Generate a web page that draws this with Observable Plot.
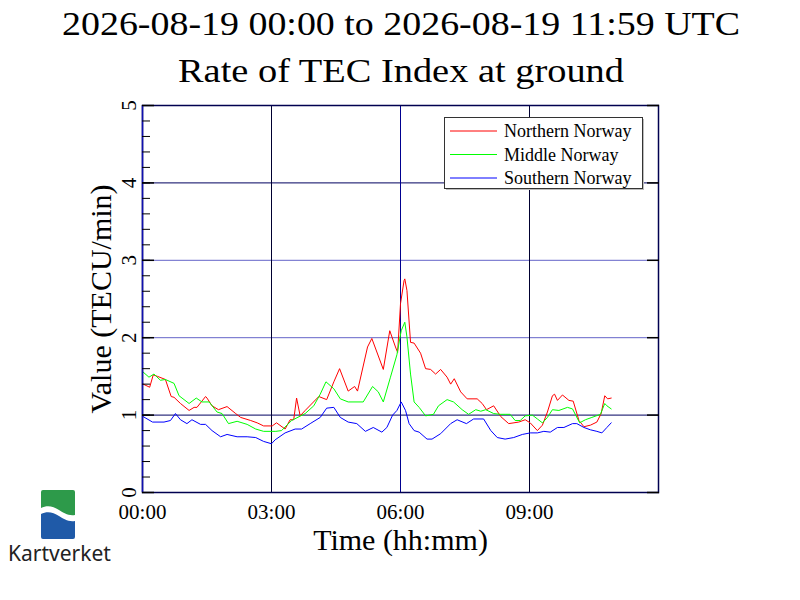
<!DOCTYPE html>
<html>
<head>
<meta charset="utf-8">
<script src="https://cdn.jsdelivr.net/npm/d3@7"></script>
<script src="https://cdn.jsdelivr.net/npm/@observablehq/plot@0.6"></script>
<style>
  html, body { margin: 0; padding: 0; background: #fff; }
  #wrap { position: relative; width: 800px; height: 600px; background: #fff; overflow: hidden; }
  #title, #chart { display: block; }
  #legend, #logo { position: absolute; }
</style>
</head>
<body>
<div id="wrap">
  <svg id="title" width="800" height="97"></svg>
  <div id="chart"></div>
  <svg id="legend" width="204" height="76" style="left:443px;top:116px"></svg>
  <svg id="logo" width="140" height="100" style="left:0px;top:480px"></svg>
</div>
<script>
// ---------- data ----------
const titleLines = ["2026-08-19 00:00 to 2026-08-19 11:59 UTC", "Rate of TEC Index at ground"];
const seriesNames = ["Northern Norway", "Middle Norway", "Southern Norway"];
const seriesColors = ["#ff0000", "#00ff00", "#0000ff"];
const xLabel = "Time (hh:mm)";
const yLabel = "Value (TECU/min)";
const xTicks = [0, 180, 360, 540];            // minutes since 00:00
const xTickLabels = ["00:00", "03:00", "06:00", "09:00"];
const yTicks = [0, 1, 2, 3, 4, 5];
const yMinorTicks = d3.range(0, 26).map(i => i / 5);
const xDomain = [0, 720];
const yDomain = [0, 5];

// Northern Norway (minutes, TECU/min)
const northT = [1,10,15,21,32,40,44,53,65,72,76,88,90,97,106,118,130,137,151,160,169,181,187,199,206,211,215,220,227,246,257,267,275,287,296,300,314,320,336,345,353,356,360,365,366,369,374,379,388,395,402,409,416,425,430,435,444,453,467,474,480,490,500,511,525,534,541,551,558,565,572,575,579,586,595,601,609,616,625,634,640,645,649,654];
const northV = [1.40,1.36,1.52,1.50,1.46,1.24,1.23,1.15,1.06,1.10,1.10,1.24,1.22,1.12,1.07,1.11,1.02,0.97,0.93,0.90,0.86,0.86,0.90,0.82,0.94,0.94,1.22,0.99,1.06,1.24,1.20,1.43,1.60,1.31,1.37,1.31,1.88,1.99,1.59,2.09,1.88,1.81,2.44,2.74,2.76,2.61,1.94,1.93,1.80,1.60,1.59,1.53,1.59,1.49,1.40,1.47,1.30,1.21,1.21,1.15,1.07,1.12,0.98,0.89,0.91,0.94,0.90,0.80,0.87,1.04,1.25,1.27,1.19,1.26,1.19,1.18,0.93,0.85,0.87,0.91,1.02,1.25,1.21,1.22];

// Middle Norway
const middleT = [1,9,16,25,32,44,51,65,75,83,93,104,111,120,132,146,158,169,186,194,208,227,239,248,256,267,276,287,308,321,329,336,346,355,361,366,369,374,379,386,395,406,413,425,434,446,455,465,472,479,490,499,506,513,520,527,534,544,551,558,565,572,581,593,600,610,618,627,639,645,648,654];
const middleV = [1.555,1.49,1.53,1.45,1.46,1.41,1.25,1.15,1.22,1.17,1.17,1.04,1.02,0.89,0.92,0.88,0.82,0.79,0.79,0.80,0.93,1.02,1.12,1.27,1.43,1.34,1.21,1.17,1.17,1.37,1.30,1.17,1.49,1.78,2.09,2.20,2.01,1.53,1.17,1.10,0.99,1.01,1.12,1.20,1.17,1.07,1.01,1.07,1.05,1.07,1.02,1.01,1.01,1.01,0.93,0.93,0.99,1.00,0.95,0.90,0.97,1.07,1.06,1.10,1.08,0.90,0.94,0.97,1.01,1.15,1.12,1.08];

// Southern Norway
const southT = [1,14,30,39,46,53,62,69,81,88,97,109,118,132,146,158,169,180,185,199,213,222,234,248,257,267,276,287,299,311,322,334,341,349,355,361,367,372,379,386,397,404,416,430,439,452,462,476,486,495,506,518,530,541,551,560,569,579,588,600,606,616,625,634,641,648,654];
const southV = [0.98,0.91,0.91,0.93,1.02,0.94,0.89,0.94,0.88,0.88,0.80,0.72,0.75,0.72,0.72,0.71,0.66,0.63,0.68,0.77,0.82,0.82,0.89,0.97,1.09,1.10,0.97,0.91,0.89,0.79,0.84,0.78,0.84,1.00,1.06,1.17,1.06,0.89,0.80,0.78,0.69,0.69,0.76,0.89,0.94,0.89,0.95,0.95,0.80,0.71,0.69,0.71,0.75,0.77,0.77,0.79,0.78,0.84,0.84,0.89,0.89,0.84,0.81,0.79,0.77,0.84,0.90];

// ---------- build table ----------
const seriesData = [[northT, northV], [middleT, middleV], [southT, southV]];
const rows = [];
seriesData.forEach(([T, V], s) => T.forEach((t, i) => rows.push({series: seriesNames[s], t, v: V[i]})));

const serif = "Liberation Serif, Times New Roman, serif";

// ---------- title ----------
const ns = "http://www.w3.org/2000/svg";
const tsvg = document.getElementById("title");
[[35, 678], [82, 446]].forEach(([y, len], i) => {
  const t = document.createElementNS(ns, "text");
  t.setAttribute("x", 401);
  t.setAttribute("y", y);
  t.setAttribute("text-anchor", "middle");
  t.setAttribute("font-family", serif);
  t.setAttribute("font-size", 34);
  t.setAttribute("textLength", len);
  t.setAttribute("lengthAdjust", "spacingAndGlyphs");
  t.textContent = titleLines[i];
  tsvg.appendChild(t);
});

// ---------- chart ----------
const chart = Plot.plot({
  width: 800,
  height: 503,
  marginTop: 8,
  marginBottom: 108,
  marginLeft: 142,
  marginRight: 142,
  x: {domain: xDomain, axis: null},
  y: {domain: yDomain, axis: null},
  color: {domain: seriesNames, range: seriesColors},
  style: {background: "white", fontFamily: serif, color: "black", overflow: "visible"},
  marks: [
    Plot.ruleY([2, 3], {stroke: "#6464c8", strokeWidth: 1}),
    Plot.ruleY([1, 4], {stroke: "#000060", strokeWidth: 1}),
    Plot.ruleX([xTicks[1], xTicks[3]], {stroke: "#000030", strokeWidth: 1}),
    Plot.ruleX([xTicks[2]], {stroke: "#000090", strokeWidth: 1}),
    Plot.line(rows, {x: "t", y: "v", z: "series", stroke: "series", strokeWidth: 1}),
    Plot.frame({stroke: "#000050", strokeWidth: 1.5}),
    Plot.ruleX([xDomain[0]], {stroke: "#1010b0", strokeWidth: 1.5}),
    Plot.axisY(yMinorTicks, {anchor: "left", tickSize: -8, fill: "none", label: null, stroke: "black"}),
    Plot.axisY(yTicks, {anchor: "left", tickSize: -12, fill: "none", label: null, stroke: "black", strokeWidth: 1.5}),
    Plot.axisY(yTicks, {anchor: "right", tickSize: -12, fill: "none", label: null, stroke: "black", strokeWidth: 1.5}),
    Plot.text(yTicks, {y: d => d, text: d => String(d), frameAnchor: "left", dx: -13, rotate: -90, fontSize: 21, fontFamily: serif, textAnchor: "middle", lineAnchor: "middle", fill: "black"}),
    Plot.text(xTicks, {x: d => d, text: (d, i) => xTickLabels[i], frameAnchor: "bottom", dy: 20, fontSize: 21, fontFamily: serif, textAnchor: "middle", lineAnchor: "middle", fill: "black"}),
    Plot.text([xLabel], {text: d => d, frameAnchor: "bottom", dy: 48, fontSize: 30, fontFamily: serif, textAnchor: "middle", lineAnchor: "middle", fill: "black"}),
    Plot.text([yLabel], {text: d => d, frameAnchor: "left", dx: -41, rotate: -90, fontSize: 30, fontFamily: serif, textAnchor: "middle", lineAnchor: "middle", fill: "black"})
  ]
});
document.getElementById("chart").appendChild(chart);

// ---------- legend ----------
const lsvg = d3.select("#legend");
lsvg.append("rect").attr("x", 3).attr("y", 3).attr("width", 198).attr("height", 71).attr("fill", "#bdbdbd");
lsvg.append("rect").attr("x", 1.5).attr("y", 1.5).attr("width", 198).attr("height", 71).attr("fill", "white").attr("stroke", "#333").attr("stroke-width", 1);
seriesNames.forEach((name, i) => {
  const y = 15 + i * 23.5;
  lsvg.append("line").attr("x1", 7).attr("x2", 54).attr("y1", y).attr("y2", y).attr("stroke", seriesColors[i]).attr("stroke-width", 1);
  lsvg.append("text").attr("x", 61).attr("y", y + 6).attr("font-family", serif).attr("font-size", 18).attr("fill", "black").text(name);
});

// ---------- logo ----------
const g = d3.select("#logo");
g.append("path").attr("fill", "#2d9a4a")
  .attr("d", "M41,12 Q41,10 43,10 H73 Q75,10 75,12 V35 C68,36 64,33 59,30 C53,26 47,25 41,28 Z");
g.append("path").attr("fill", "#1f5aa8")
  .attr("d", "M41,34 C47,31 53,32 59,36 C64,39 68,42 75,41 V57 Q75,59 73,59 H43 Q41,59 41,57 Z");
g.append("text").attr("x", 8).attr("y", 81).attr("font-family", "Noto Sans, Open Sans, sans-serif")
  .attr("font-size", 21).attr("fill", "#222").text("Kartverket");
</script>
</body>
</html>
